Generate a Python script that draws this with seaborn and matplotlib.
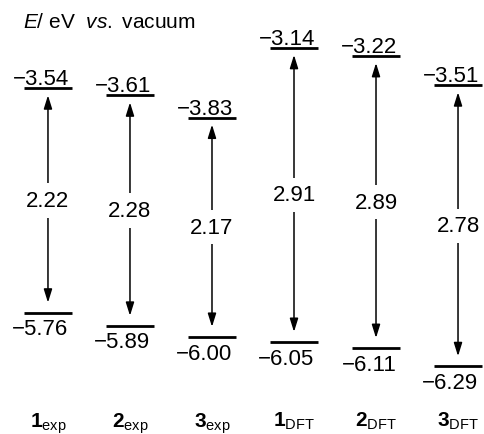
import pandas as pd
import matplotlib.pyplot as plt
import seaborn as sns

# DATA
systems = ['1exp', '2exp', '3exp', '1DFT', '2DFT', '3DFT']
tick_labels = [r'$\mathbf{1}_{\mathrm{exp}}$', r'$\mathbf{2}_{\mathrm{exp}}$', r'$\mathbf{3}_{\mathrm{exp}}$',
               r'$\mathbf{1}_{\mathrm{DFT}}$', r'$\mathbf{2}_{\mathrm{DFT}}$', r'$\mathbf{3}_{\mathrm{DFT}}$']
lumo = [-3.54, -3.61, -3.83, -3.14, -3.22, -3.51]
homo = [-5.76, -5.89, -6.00, -6.05, -6.11, -6.29]
gaps = [2.22, 2.28, 2.17, 2.91, 2.89, 2.78]

sns.set_theme(style='white')
plt.rcParams['font.family'] = ['Liberation Sans', 'DejaVu Sans']
plt.rcParams.update({
    'mathtext.fontset': 'custom',
    'mathtext.rm': 'Liberation Sans',
    'mathtext.it': 'Liberation Sans:italic',
    'mathtext.bf': 'Liberation Sans:bold',
    'text.color': 'black',
    'xtick.color': 'black',
})


def fmt(v):
    return f'{v:.2f}'.replace('-', '\u2212')


levels = pd.DataFrame({
    'system': systems * 2,
    'energy': lumo + homo,
    'orbital': ['LUMO'] * len(systems) + ['HOMO'] * len(systems),
})

fig = plt.figure(figsize=(4.85, 4.35), dpi=100)
ax = fig.add_axes([0, 0.0805, 1, 0.9195])

# energy levels as wide horizontal markers
sns.scatterplot(data=levels, x='system', y='energy', marker='_', s=1194,
                color='black', linewidth=2, legend=False, ax=ax)

for i, (lo, hi, g) in enumerate(zip(homo, lumo, gaps)):
    ax.annotate('', xy=(i, hi), xytext=(i, lo),
                arrowprops=dict(arrowstyle='<|-|>,head_length=0.8,head_width=0.25',
                                color='black', lw=1.1, shrinkA=7.2, shrinkB=5,
                                mutation_scale=10))
    ax.text(i, (lo + hi) / 2, f'{g:.2f}', ha='center', va='center', fontsize=16, zorder=5,
            bbox=dict(facecolor='white', edgecolor='none', boxstyle='square,pad=0.3'))
    ax.text(i + 0.255, hi + 0.04, fmt(hi), ha='right', va='baseline', fontsize=16)
    ax.text(i + 0.25, lo - 0.215, fmt(lo), ha='right', va='baseline', fontsize=16)

fig.text(23 / 485, 1 - 22 / 435, r'$\mathit{E}$/ eV  $\mathit{vs.}$ vacuum',
         ha='left', va='center', fontsize=15)

ax.set_xlim(-0.585, 5.329)
ax.set_ylim(-6.615, -2.655)
ax.set_xticks(range(len(systems)))
ax.set_xticklabels(tick_labels, fontsize=15)
ax.tick_params(axis='x', length=0, pad=8)
ax.set_yticks([])
ax.set_xlabel('')
ax.set_ylabel('')
sns.despine(ax=ax, left=True, bottom=True)

fig.savefig('out.png', dpi=100)
